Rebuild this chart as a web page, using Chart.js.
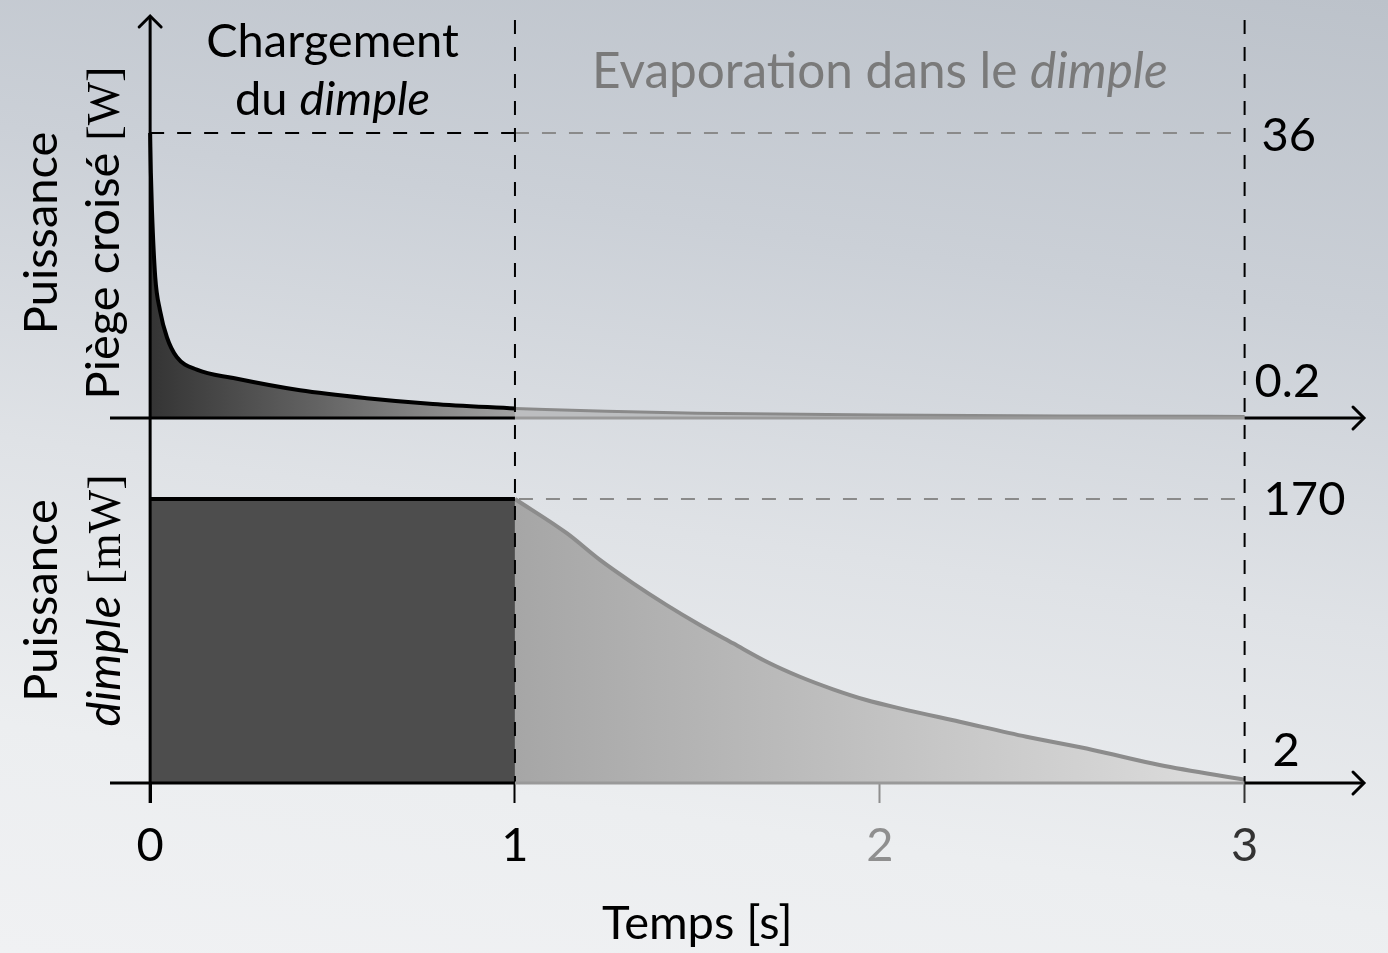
<!DOCTYPE html>
<html lang="fr">
<head>
<meta charset="utf-8">
<title>Puissance piège croisé / dimple</title>
<script src="https://cdn.jsdelivr.net/npm/chart.js@4.4.1/dist/chart.umd.min.js"></script>
<style>
  html, body { margin: 0; padding: 0; }
  body {
    width: 1388px; height: 953px; overflow: hidden;
    background: linear-gradient(188deg, #bcc2ca 0%, #cbd0d7 28%, #dfe2e6 55%, #eceef0 80%, #f0f1f3 100%);
  }
  #wrap { position: relative; width: 1388px; height: 953px; }
</style>
</head>
<body>
<div id="wrap"><canvas id="powerChart"></canvas></div>
<script>
// temps [s]
const xTicks = [0, 1, 2, 3];
const phaseBounds = [0, 1, 3];
const xTitle = 'Temps [s]';

// puissance piège croisé [W] : chargement puis évaporation
const trapLoadT = [0, 0.002, 0.005, 0.014, 0.027, 0.046, 0.073, 0.128, 0.228, 0.411, 0.594, 0.775, 1.0];
const trapLoadP = [36, 31, 26.3, 17.8, 13.6, 10.2, 7.7, 6.1, 5.05, 3.5, 2.5, 1.77, 1.2];
const trapEvapT = [1.0, 1.25, 1.5, 2.0, 2.5, 3.0];
const trapEvapP = [1.2, 0.85, 0.6, 0.38, 0.26, 0.2];

// puissance dimple [mW]
const dimpleLoadT = [0, 1];
const dimpleLoadP = [170, 170];
const dimpleEvapT = [1.0, 1.142, 1.233, 1.324, 1.416, 1.507, 1.598, 1.69, 1.781, 1.872, 1.963, 2.055, 2.219, 2.402, 2.584, 2.767, 3.0];
const dimpleEvapP = [170, 149.5, 133.5, 119.5, 106.5, 94.6, 83.6, 72.6, 63.6, 56.1, 49.7, 44.7, 36.7, 27.7, 19.8, 10.8, 2];

// valeurs repères affichées à droite
const trapMarks = [36, 0.2];
const dimpleMarks = [170, 2];

const SANS = '47px Lato';
const ITAL = 'italic 47px Lato';
const SERIF = '46px "Liberation Serif"';
const GREY = '#8a8a8a';

function pts(t, p) {
  return t.map((v, i) => ({ x: v, y: p[i] }));
}

function hGradient(stops, from, to) {
  return (context) => {
    const { ctx, chartArea, scales } = context.chart;
    if (!chartArea) return stops[0][1];
    const g = ctx.createLinearGradient(scales.x.getPixelForValue(from), 0, scales.x.getPixelForValue(to), 0);
    stops.forEach(([o, c]) => g.addColorStop(o, c));
    return g;
  };
}

function drawRich(ctx, parts, x, y, align) {
  let total = 0;
  parts.forEach((p) => { ctx.font = p.font || SANS; total += ctx.measureText(p.text).width; });
  let cx = align === 'center' ? x - total / 2 : x;
  ctx.textAlign = 'left';
  ctx.textBaseline = 'alphabetic';
  parts.forEach((p) => {
    ctx.font = p.font || SANS;
    ctx.fillStyle = p.color || '#000';
    ctx.fillText(p.text, cx, y);
    cx += ctx.measureText(p.text).width;
  });
}

function line(ctx, x1, y1, x2, y2, color, width) {
  ctx.strokeStyle = color;
  ctx.lineWidth = width;
  ctx.beginPath();
  ctx.moveTo(x1, y1);
  ctx.lineTo(x2, y2);
  ctx.stroke();
}

function arrowHead(ctx, tx, ty, up) {
  ctx.save();
  ctx.translate(tx, ty);
  if (up) ctx.rotate(-Math.PI / 2);
  ctx.strokeStyle = '#000';
  ctx.lineWidth = 3;
  ctx.lineCap = 'round';
  ctx.beginPath();
  ctx.moveTo(-11, -11);
  ctx.quadraticCurveTo(-2, -2, 0, 0);
  ctx.quadraticCurveTo(-2, 2, -11, 11);
  ctx.stroke();
  ctx.restore();
}

const overlay = {
  id: 'overlay',
  afterDatasetsDraw(chart) {
    const { ctx, chartArea, scales } = chart;
    const { x, yTop, yBot } = scales;
    const X = (v) => x.getPixelForValue(v);
    const xa = X(phaseBounds[0]), xb = X(phaseBounds[1]), xc = X(phaseBounds[2]);
    const top0 = yTop.getPixelForValue(0);
    const bot0 = yBot.getPixelForValue(0);

    ctx.save();
    // lignes repères pointillées
    ctx.setLineDash([14, 13]);
    const y36 = yTop.getPixelForValue(trapMarks[0]);
    const y170 = yBot.getPixelForValue(dimpleMarks[0]);
    line(ctx, xa, y36, xb, y36, '#000', 2);
    line(ctx, xb, y36, xc - 4, y36, GREY, 2);
    line(ctx, xb + 4, y170, xc - 4, y170, GREY, 2);
    line(ctx, xb, chartArea.top + 5, xb, bot0, '#000', 2);
    line(ctx, xc, chartArea.top + 5, xc, bot0, '#000', 2);
    ctx.setLineDash([]);

    // axes
    [top0, bot0].forEach((y0) => {
      line(ctx, chartArea.left, y0, xb, y0, '#000', 3);
      line(ctx, xb, y0, xc, y0, '#999', 3);
      line(ctx, xc, y0, chartArea.right - 1, y0, '#000', 3);
      arrowHead(ctx, chartArea.right - 1, y0, false);
    });
    line(ctx, xa, bot0 + 20, xa, chartArea.top + 1, '#000', 3);
    arrowHead(ctx, xa, chartArea.top + 1, true);

    // valeurs repères
    const marks = [
      { y: yTop.getPixelForValue(trapMarks[0]) + 18, dx: 17, v: trapMarks[0] },
      { y: yTop.getPixelForValue(trapMarks[1]) - 19, dx: 10, v: trapMarks[1] },
      { y: yBot.getPixelForValue(dimpleMarks[0]) + 16, dx: 19, v: dimpleMarks[0] },
      { y: yBot.getPixelForValue(dimpleMarks[1]) - 14, dx: 28, v: dimpleMarks[1] },
    ];
    marks.forEach((m) => drawRich(ctx, [{ text: String(m.v) }], xc + m.dx, m.y, 'left'));

    // titres des phases
    const cLoad = X((phaseBounds[0] + phaseBounds[1]) / 2);
    const cEvap = X((phaseBounds[1] + phaseBounds[2]) / 2);
    drawRich(ctx, [{ text: 'Chargement' }], cLoad, chartArea.top + 42, 'center');
    drawRich(ctx, [{ text: 'du ' }, { text: 'dimple', font: ITAL }], cLoad, chartArea.top + 100, 'center');
    drawRich(ctx, [
      { text: 'Evaporation dans le ', color: '#7a7a7a', font: '49.5px Lato' },
      { text: 'dimple', font: 'italic 49.5px Lato', color: '#7a7a7a' },
    ], cEvap, chartArea.top + 73, 'center');

    // titre de l'axe du temps, centré sur l'intervalle de données
    drawRich(ctx, [{ text: xTitle }], X((xTicks[0] + xTicks[xTicks.length - 1]) / 2), bot0 + 156, 'center');

    // titres des axes verticaux
    const yTitles = [
      { cy: top0 - 185, lines: [
        { bx: 57, parts: [{ text: 'Puissance' }] },
        { bx: 119, parts: [{ text: 'Piège croisé ' }, { text: '[W]', font: SERIF }] },
      ] },
      { cy: (top0 + bot0) / 2, lines: [
        { bx: 57, parts: [{ text: 'Puissance' }] },
        { bx: 120, parts: [{ text: 'dimple', font: ITAL }, { text: ' [mW]', font: SERIF }] },
      ] },
    ];
    yTitles.forEach((t) => {
      t.lines.forEach((l) => {
        ctx.save();
        ctx.translate(l.bx, t.cy);
        ctx.rotate(-Math.PI / 2);
        drawRich(ctx, l.parts, 0, 0, 'center');
        ctx.restore();
      });
    });
    ctx.restore();
  },
};

const tickColor = (v) => (v === 2 ? '#8f8f8f' : v === 3 ? '#333' : '#000');

new Chart(document.getElementById('powerChart'), {
  type: 'line',
  data: {
    datasets: [
      {
        label: 'Piège croisé – chargement',
        data: pts(trapLoadT, trapLoadP),
        yAxisID: 'yTop',
        borderColor: '#000',
        borderWidth: 4,
        cubicInterpolationMode: 'monotone',
        fill: 'origin',
        backgroundColor: hGradient([[0, '#343434'], [0.45, '#626262'], [1, '#a2a2a2']], 0, 1),
        pointRadius: 0,
      },
      {
        label: 'Piège croisé – évaporation',
        data: pts(trapEvapT, trapEvapP),
        yAxisID: 'yTop',
        borderColor: GREY,
        borderWidth: 3,
        cubicInterpolationMode: 'monotone',
        fill: 'origin',
        backgroundColor: 'rgba(170,170,170,0.6)',
        pointRadius: 0,
      },
      {
        label: 'Dimple – chargement',
        data: pts(dimpleLoadT, dimpleLoadP),
        yAxisID: 'yBot',
        borderColor: '#000',
        borderWidth: 4,
        fill: 'origin',
        backgroundColor: '#4d4d4d',
        pointRadius: 0,
      },
      {
        label: 'Dimple – évaporation',
        data: pts(dimpleEvapT, dimpleEvapP),
        yAxisID: 'yBot',
        borderColor: '#8c8c8c',
        borderWidth: 4,
        cubicInterpolationMode: 'monotone',
        fill: 'origin',
        backgroundColor: hGradient([[0, '#a6a6a6'], [1, '#dedede']], 1, 3),
        pointRadius: 0,
      },
    ],
  },
  options: {
    responsive: true,
    maintainAspectRatio: false,
    animation: false,
    events: [],
    layout: { padding: { left: 110, right: 23, top: 15, bottom: 0 } },
    plugins: { legend: { display: false }, tooltip: { enabled: false } },
    scales: {
      x: {
        type: 'linear',
        min: -0.11,
        max: 3.33,
        afterBuildTicks: (scale) => { scale.ticks = xTicks.map((v) => ({ value: v })); },
        afterFit: (scale) => { scale.height = 170; },
        border: { display: false },
        grid: {
          drawOnChartArea: false,
          drawTicks: true,
          tickLength: 20,
          tickWidth: (c) => (c.tick && c.tick.value === 0 ? 3 : 2),
          tickColor: (c) => (c.tick ? tickColor(c.tick.value) : '#000'),
        },
        ticks: {
          padding: 15,
          font: { family: 'Lato', size: 47 },
          color: (c) => (c.tick ? tickColor(c.tick.value) : '#000'),
          callback: (v) => String(v),
          maxRotation: 0,
        },
      },
      yTop: { type: 'linear', display: false, min: -46.1, max: 50.9 },
      yBot: { type: 'linear', display: false, min: 0, max: 459.7 },
    },
  },
  plugins: [overlay],
});
</script>
</body>
</html>
